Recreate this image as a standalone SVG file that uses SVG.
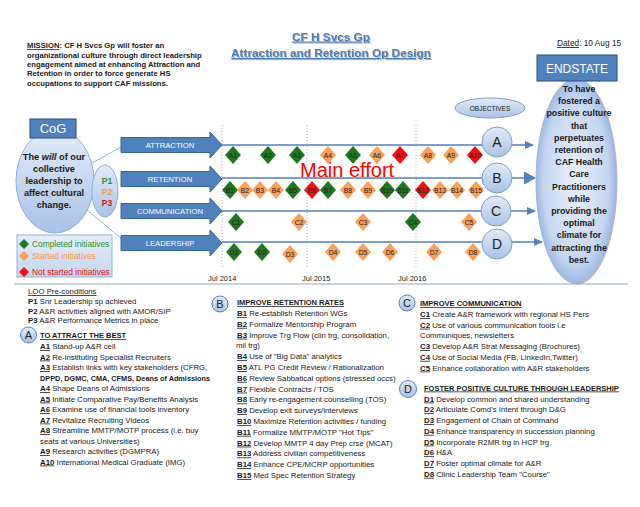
<svg xmlns="http://www.w3.org/2000/svg" width="640" height="507" viewBox="0 0 640 507">
<defs>
<style>
.t{font-family:"Liberation Sans",Arial,sans-serif;fill:#1a1a1a}
.li{font-size:7.8px}
.b{font-weight:bold}
.u{text-decoration:underline}
.hd{font-size:7.5px;font-weight:bold;text-decoration:underline}
.arr{fill:#4f81bd;stroke:#3a6496;stroke-width:1}
.al{font-family:"Liberation Sans",Arial,sans-serif;font-size:7.7px;fill:#fff;text-anchor:middle}
.ln{stroke:#4f81bd;stroke-width:1.5;fill:none}
.dg{fill:#1c7a1c}
.do{fill:#f9a05a}
.dr{fill:#f01010}
.dl{font-family:"Liberation Sans",Arial,sans-serif;font-size:6.8px;fill:#222;text-anchor:middle}
.oc{fill:url(#cg);stroke:#7f9fcf;stroke-width:1}
.ol{font-family:"Liberation Sans",Arial,sans-serif;font-size:14px;fill:#222;text-anchor:middle}
.sc{fill:url(#cg);stroke:#5b85c2;stroke-width:1}
.sl{font-family:"Liberation Sans",Arial,sans-serif;font-size:11px;fill:#222;text-anchor:middle}
.tl{stroke:#9fb0c8;stroke-width:1;stroke-dasharray:1 2}
</style>
<radialGradient id="eg" cx="0.5" cy="0.5" r="0.5">
<stop offset="0" stop-color="#e9f0fb"/><stop offset="0.8" stop-color="#c6d7f1"/><stop offset="1" stop-color="#9fbae4"/>
</radialGradient>
<linearGradient id="cg" x1="0" y1="0" x2="0" y2="1">
<stop offset="0" stop-color="#e3ecf8"/><stop offset="1" stop-color="#a9c2e6"/>
</linearGradient>
<linearGradient id="lg" x1="0" y1="0" x2="0" y2="1">
<stop offset="0" stop-color="#e6eef9"/><stop offset="1" stop-color="#c3d5ef"/>
</linearGradient>
<filter id="sh" x="-10%" y="-10%" width="130%" height="140%">
<feDropShadow dx="1" dy="1" stdDeviation="0.6" flood-color="#888" flood-opacity="0.6"/>
</filter>
<marker id="ms" markerUnits="userSpaceOnUse" markerWidth="9" markerHeight="8" refX="8" refY="4" orient="auto">
<path d="M0,0 L9,4 L0,8 Z" fill="#4f81bd"/>
</marker>
<marker id="mb" markerUnits="userSpaceOnUse" markerWidth="12" markerHeight="13" refX="11" refY="6.5" orient="auto">
<path d="M0,0 L12,6.5 L0,13 Z" fill="#4f81bd"/>
</marker>
<path id="ba" d="M121,-7.5 H210 V-13 L222,0 L210,13 V7.5 H121 Z"/>
<path id="dm" d="M0,-9 L8,0 L0,9 L-8,0 Z"/>
</defs>
<rect width="640" height="507" fill="#fff"/>

<g id="mission" class="t b" font-size="7.7">
<text x="27" y="48"><tspan class="u">MISSION</tspan>:  CF H Svcs Gp will foster an</text>
<text x="27" y="57.5">organizational culture through direct leadership</text>
<text x="27" y="67">engagement aimed at enhancing Attraction and</text>
<text x="27" y="76.3">Retention in order to force generate HS</text>
<text x="27" y="85.7">occupations to support CAF missions.</text>
</g>

<g id="title" filter="url(#sh)">
<text x="331" y="40.5" font-family="Liberation Sans,Arial,sans-serif" font-size="11.8" font-weight="bold" fill="#4a7ebb" text-anchor="middle" text-decoration="underline">CF H Svcs Gp</text>
<text x="331" y="57" font-family="Liberation Sans,Arial,sans-serif" font-size="11.8" font-weight="bold" fill="#4a7ebb" text-anchor="middle" text-decoration="underline">Attraction and Retention Op Design</text>
</g>

<g id="dated"><text class="t" x="557" y="46" font-size="8.3"><tspan class="u">Dated</tspan>: 10 Aug 15</text></g>

<g id="timeline">
<line class="tl" x1="222" y1="125" x2="222" y2="268"/>
<line class="tl" x1="307" y1="125" x2="307" y2="268"/>
<line class="tl" x1="416" y1="125" x2="416" y2="268"/>
<text class="t" x="208" y="281" font-size="7.5">Jul 2014</text>
<text class="t" x="302" y="281" font-size="7.5">Jul 2015</text>
<text class="t" x="398" y="281" font-size="7.5">Jul 2016</text>
</g>

<g id="connectors">
<line x1="92" y1="163" x2="123" y2="146" stroke="#8eb4e3" stroke-width="1"/>
<line x1="87" y1="210" x2="123" y2="240" stroke="#8eb4e3" stroke-width="1"/>
<path class="ln" d="M222,145 H533" marker-end="url(#ms)"/>
<path class="ln" d="M222,178 H535" stroke-width="3" marker-end="url(#mb)"/>
<path class="ln" d="M222,211 H535" marker-end="url(#ms)"/>
<path class="ln" d="M222,242 H542" marker-end="url(#ms)"/>
</g>

<g id="endstate">
<ellipse cx="576" cy="181" rx="40" ry="102" fill="url(#eg)" stroke="#9fb7dc" stroke-width="1" filter="url(#sh)"/>
<rect x="537" y="55" width="80" height="26" fill="#4f81bd" stroke="#2c4d75" stroke-width="1"/>
<text x="577" y="73" font-family="Liberation Sans,Arial,sans-serif" font-size="13" fill="#fff" text-anchor="middle" textLength="62" lengthAdjust="spacingAndGlyphs">ENDSTATE</text>
<g class="t b" font-size="8.8" text-anchor="middle">
<text x="579" y="92">To have</text>
<text x="579" y="104.2">fostered a</text>
<text x="579" y="116.4">positive culture</text>
<text x="579" y="128.6">that</text>
<text x="579" y="140.8">perpetuates</text>
<text x="579" y="153">retention of</text>
<text x="579" y="165.2">CAF Health</text>
<text x="579" y="177.4">Care</text>
<text x="579" y="189.6">Practitioners</text>
<text x="579" y="201.8">while</text>
<text x="579" y="214">providing the</text>
<text x="579" y="226.2">optimal</text>
<text x="579" y="238.4">climate for</text>
<text x="579" y="250.6">attracting the</text>
<text x="579" y="262.8">best.</text>
</g>
</g>

<g id="objectives">
<ellipse cx="490" cy="108" rx="35" ry="10" class="oc"/>
<text x="490" y="110.5" font-family="Liberation Sans,Arial,sans-serif" font-size="6.5" fill="#222" text-anchor="middle">OBJECTIVES</text>
</g>

<g id="cog">
<ellipse cx="55" cy="181" rx="39" ry="52" fill="url(#cg)" stroke="#8eaedc" stroke-width="1"/>
<rect x="30" y="119" width="46" height="19" fill="#4f81bd" stroke="#2c4d75" stroke-width="1"/>
<text x="53" y="133" font-family="Liberation Sans,Arial,sans-serif" font-size="13" fill="#fff" text-anchor="middle">CoG</text>
<g class="t b" font-size="9.2" text-anchor="middle">
<text x="54" y="160">The <tspan font-style="italic">will</tspan> of our</text>
<text x="54" y="172">collective</text>
<text x="54" y="184">leadership to</text>
<text x="54" y="196">affect cultural</text>
<text x="54" y="208">change.</text>
</g>
</g>

<g id="preconditions">
<ellipse cx="105" cy="191" rx="13" ry="26" fill="url(#cg)" stroke="#8eaedc" stroke-width="1"/>
<g font-family="Liberation Sans,Arial,sans-serif" font-size="8.5" font-weight="bold" text-anchor="middle">
<text x="107" y="184" fill="#2f8f2f">P1</text>
<text x="107" y="195" fill="#f79646">P2</text>
<text x="107" y="205.5" fill="#e01010">P3</text>
</g>
</g>

<g id="loo-attraction"><use href="#ba" y="145" class="arr"/><text class="al" x="170" y="148">ATTRACTION</text></g>
<g id="loo-retention"><use href="#ba" y="179" class="arr"/><text class="al" x="170" y="182">RETENTION</text></g>
<g id="loo-communication"><use href="#ba" y="211" class="arr"/><text class="al" x="170" y="214">COMMUNICATION</text></g>
<g id="loo-leadership"><use href="#ba" y="243" class="arr"/><text class="al" x="170" y="246">LEADERSHIP</text></g>

<g id="legend">
<rect x="17" y="235" width="95" height="42" fill="url(#lg)" stroke="#8eb4e3" stroke-width="1"/>
<path d="M24,239 L29,244 L24,249 L19,244 Z" fill="#1c7a1c"/>
<path d="M24,251 L29,256 L24,261 L19,256 Z" fill="#f9a05a"/>
<path d="M24,267 L29,272 L24,277 L19,272 Z" fill="#f01010"/>
<g font-family="Liberation Sans,Arial,sans-serif" font-size="8.4">
<text x="32" y="247" fill="#2f8f2f">Completed initiatives</text>
<text x="32" y="259" fill="#f79646">Started initiatives</text>
<text x="32" y="275" fill="#e01010">Not started initiatives</text>
</g>
</g>

<g id="main-effort"><text x="300" y="177" font-family="Liberation Sans,Arial,sans-serif" font-size="20" fill="#ff0000">Main effort</text></g>

<g id="obj-A"><circle cx="497" cy="142" r="15" class="oc"/><text class="ol" x="497" y="147">A</text></g>
<g id="obj-B"><circle cx="497" cy="178" r="15" class="oc"/><text class="ol" x="497" y="183">B</text></g>
<g id="obj-C"><circle cx="496" cy="211" r="15" class="oc"/><text class="ol" x="496" y="216">C</text></g>
<g id="obj-D"><circle cx="497" cy="244" r="15" class="oc"/><text class="ol" x="497" y="249">D</text></g>

<g id="diamonds-A">
<use href="#dm" x="233" y="155" class="dg"/><text class="dl" x="233" y="157.5">A1</text>
<use href="#dm" x="268" y="155" class="dg"/><text class="dl" x="268" y="157.5">A2</text>
<use href="#dm" x="297" y="155" class="dg"/><text class="dl" x="297" y="157.5">A3</text>
<use href="#dm" x="328" y="155" class="do"/><text class="dl" x="328" y="157.5">A4</text>
<use href="#dm" x="353" y="155" class="dg"/><text class="dl" x="353" y="157.5">A5</text>
<use href="#dm" x="377" y="155" class="do"/><text class="dl" x="377" y="157.5">A6</text>
<use href="#dm" x="400" y="155" class="dr"/><text class="dl" x="400" y="157.5">A7</text>
<use href="#dm" x="428" y="155" class="do"/><text class="dl" x="428" y="157.5">A8</text>
<use href="#dm" x="451" y="155" class="do"/><text class="dl" x="451" y="157.5">A9</text>
<use href="#dm" x="475" y="155" class="dr"/><text class="dl" x="475" y="157.5">A10</text>
</g>
<g id="diamonds-B">
<use href="#dm" x="230" y="190" class="dg"/><text class="dl" x="230" y="192.5">B1</text>
<use href="#dm" x="245" y="190" class="do"/><text class="dl" x="245" y="192.5">B2</text>
<use href="#dm" x="260" y="190" class="do"/><text class="dl" x="260" y="192.5">B3</text>
<use href="#dm" x="276" y="190" class="do"/><text class="dl" x="276" y="192.5">B4</text>
<use href="#dm" x="293" y="190" class="dg"/><text class="dl" x="293" y="192.5">B5</text>
<use href="#dm" x="312" y="190" class="dr"/><text class="dl" x="312" y="192.5">B6</text>
<use href="#dm" x="328" y="190" class="dg"/><text class="dl" x="328" y="192.5">B7</text>
<use href="#dm" x="348" y="190" class="do"/><text class="dl" x="348" y="192.5">B8</text>
<use href="#dm" x="368" y="190" class="do"/><text class="dl" x="368" y="192.5">B9</text>
<use href="#dm" x="387" y="190" class="dg"/><text class="dl" x="387" y="192.5">B10</text>
<use href="#dm" x="403" y="190" class="dg"/><text class="dl" x="403" y="192.5">B11</text>
<use href="#dm" x="423" y="190" class="dr"/><text class="dl" x="423" y="192.5">B12</text>
<use href="#dm" x="440" y="190" class="do"/><text class="dl" x="440" y="192.5">B13</text>
<use href="#dm" x="457" y="190" class="do"/><text class="dl" x="457" y="192.5">B14</text>
<use href="#dm" x="476" y="190" class="do"/><text class="dl" x="476" y="192.5">B15</text>
</g>
<g id="diamonds-C">
<use href="#dm" x="236" y="222" class="dg"/><text class="dl" x="236" y="224.5">C1</text>
<use href="#dm" x="299" y="222" class="do"/><text class="dl" x="299" y="224.5">C2</text>
<use href="#dm" x="363" y="222" class="do"/><text class="dl" x="363" y="224.5">C3</text>
<use href="#dm" x="413" y="222" class="dg"/><text class="dl" x="413" y="224.5">C4</text>
<use href="#dm" x="469" y="222" class="do"/><text class="dl" x="469" y="224.5">C5</text>
</g>
<g id="diamonds-D">
<use href="#dm" x="234" y="252" class="dg"/><text class="dl" x="234" y="254.5">D1</text>
<use href="#dm" x="262" y="252" class="dg"/><text class="dl" x="262" y="254.5">D2</text>
<use href="#dm" x="290" y="254" class="do"/><text class="dl" x="290" y="256.5">D3</text>
<use href="#dm" x="333" y="252" class="do"/><text class="dl" x="333" y="254.5">D4</text>
<use href="#dm" x="363" y="252" class="do"/><text class="dl" x="363" y="254.5">D5</text>
<use href="#dm" x="390" y="252" class="do"/><text class="dl" x="390" y="254.5">D6</text>
<use href="#dm" x="434" y="252" class="do"/><text class="dl" x="434" y="254.5">D7</text>
<use href="#dm" x="473" y="252" class="do"/><text class="dl" x="473" y="254.5">D8</text>
</g>

<line x1="14" y1="284" x2="628" y2="284" stroke="#8fa7c8" stroke-width="1.2"/>

<g id="list-pre" class="t li">
<text x="28" y="294" class="u">LOO Pre-conditions</text>
<text x="28" y="304"><tspan class="b">P1</tspan>  Snr Leadership sp achieved</text>
<text x="28" y="313.5"><tspan class="b">P2</tspan>  A&amp;R activities aligned with AMOR/SIP</text>
<text x="28" y="323"><tspan class="b">P3</tspan>  A&amp;R Performance Metrics in place</text>
</g>

<g id="list-A" class="t li">
<circle cx="28.5" cy="335" r="8" class="sc"/><text class="sl" x="28.5" y="339">A</text>
<text x="40" y="338" class="hd">TO ATTRACT THE BEST</text>
<text x="40" y="349"><tspan class="b u">A1</tspan> Stand-up A&amp;R cell</text>
<text x="40" y="359.5"><tspan class="b u">A2</tspan> Re-instituting Specialist Recruiters</text>
<text x="40" y="370"><tspan class="b u">A3</tspan> Establish links with key stakeholders (CFRG,</text>
<text x="40" y="380.5" class="b" textLength="170" lengthAdjust="spacingAndGlyphs">DPPD, DGMC, CMA, CFMS, Deans of Admissions</text>
<text x="40" y="391"><tspan class="b u">A4</tspan>  Shape Deans of Admissions</text>
<text x="40" y="401.5"><tspan class="b u">A5</tspan>  Initiate Comparative Pay/Benefits Analysis</text>
<text x="40" y="412"><tspan class="b u">A6</tspan>  Examine use of financial tools inventory</text>
<text x="40" y="422.5"><tspan class="b u">A7</tspan>  Revitalize Recruiting Videos</text>
<text x="40" y="433"><tspan class="b u">A8</tspan>  Streamline MMTP/MOTP process (i.e. buy</text>
<text x="40" y="443.5">seats at various Universities)</text>
<text x="40" y="454"><tspan class="b u">A9</tspan>  Research activities (DGMPRA)</text>
<text x="40" y="464.5"><tspan class="b u">A10</tspan> International Medical Graduate (IMG)</text>
</g>

<g id="list-B" class="t li">
<circle cx="220" cy="304" r="8" class="sc"/><text class="sl" x="220" y="308">B</text>
<text x="237" y="305" class="hd">IMPROVE RETENTION RATES</text>
<text x="237" y="316"><tspan class="b u">B1</tspan>  Re-establish Retention WGs</text>
<text x="237" y="326.8"><tspan class="b u">B2</tspan>  Formalize Mentorship Program</text>
<text x="237" y="337.6"><tspan class="b u">B3</tspan>  Improve Trg Flow  (clin trg, consolidation,</text>
<text x="236" y="348.4">mil trg)</text>
<text x="237" y="359.2"><tspan class="b u">B4</tspan>  Use of "Big Data" analytics</text>
<text x="237" y="370"><tspan class="b u">B5</tspan>  ATL PG Credit Review / Rationalization</text>
<text x="237" y="380.8"><tspan class="b u">B6</tspan>  Review Sabbatical options (stressed occs)</text>
<text x="237" y="391.6"><tspan class="b u">B7</tspan>  Flexible Contracts / TOS</text>
<text x="237" y="402.4"><tspan class="b u">B8</tspan>  Early re-engagement counselling (TOS)</text>
<text x="237" y="413.2"><tspan class="b u">B9</tspan>  Develop exit surveys/interviews</text>
<text x="237" y="424"><tspan class="b u">B10</tspan>  Maximize Retention activities / funding</text>
<text x="237" y="434.8"><tspan class="b u">B11</tspan>  Formalize MMTP/MOTP "Hot Tips"</text>
<text x="237" y="445.6"><tspan class="b u">B12</tspan>  Develop MMTP 4 day Prep crse (MCAT)</text>
<text x="237" y="456.4"><tspan class="b u">B13</tspan>  Address civilian competitiveness</text>
<text x="237" y="467.2"><tspan class="b u">B14</tspan>  Enhance CPE/MCRP opportunities</text>
<text x="237" y="478"><tspan class="b u">B15</tspan>  Med Spec Retention Strategy</text>
</g>

<g id="list-C" class="t li">
<circle cx="407" cy="303" r="8" class="sc"/><text class="sl" x="407" y="307">C</text>
<text x="420" y="306" class="hd">IMPROVE COMMUNICATION</text>
<text x="420" y="317"><tspan class="b u">C1</tspan> Create A&amp;R framework with regional HS Pers</text>
<text x="420" y="327.7"><tspan class="b u">C2</tspan> Use of various communication tools i.e</text>
<text x="420" y="338.4">Communiques, newsletters</text>
<text x="420" y="349.1"><tspan class="b u">C3</tspan>  Develop A&amp;R Strat Messaging (Brochures)</text>
<text x="420" y="359.8"><tspan class="b u">C4</tspan> Use of Social Media (FB, LinkedIn,Twitter)</text>
<text x="420" y="370.5"><tspan class="b u">C5</tspan> Enhance collaboration with A&amp;R stakeholders</text>
</g>

<g id="list-D" class="t li">
<circle cx="408" cy="389" r="8.5" class="sc"/><text class="sl" x="408" y="393">D</text>
<text x="424" y="390.5" class="hd">FOSTER POSITIVE CULTURE THROUGH LEADERSHIP</text>
<text x="424" y="401.5"><tspan class="b u">D1</tspan>  Develop common and shared understanding</text>
<text x="424" y="412.3"><tspan class="b u">D2</tspan>  Articulate Comd's Intent through D&amp;G</text>
<text x="424" y="423"><tspan class="b u">D3</tspan>  Engagement of Chain of Command</text>
<text x="424" y="433.8"><tspan class="b u">D4</tspan>  Enhance transparency in succession planning</text>
<text x="424" y="444.5"><tspan class="b u">D5</tspan> Incorporate R2MR trg in HCP trg</text>
<text x="424" y="455.3"><tspan class="b u">D6</tspan>  H&amp;A</text>
<text x="424" y="466"><tspan class="b u">D7</tspan>  Foster optimal climate for A&amp;R</text>
<text x="424" y="476.8"><tspan class="b u">D8</tspan>  Clinic Leadership Team "Course"</text>
</g>
</svg>
